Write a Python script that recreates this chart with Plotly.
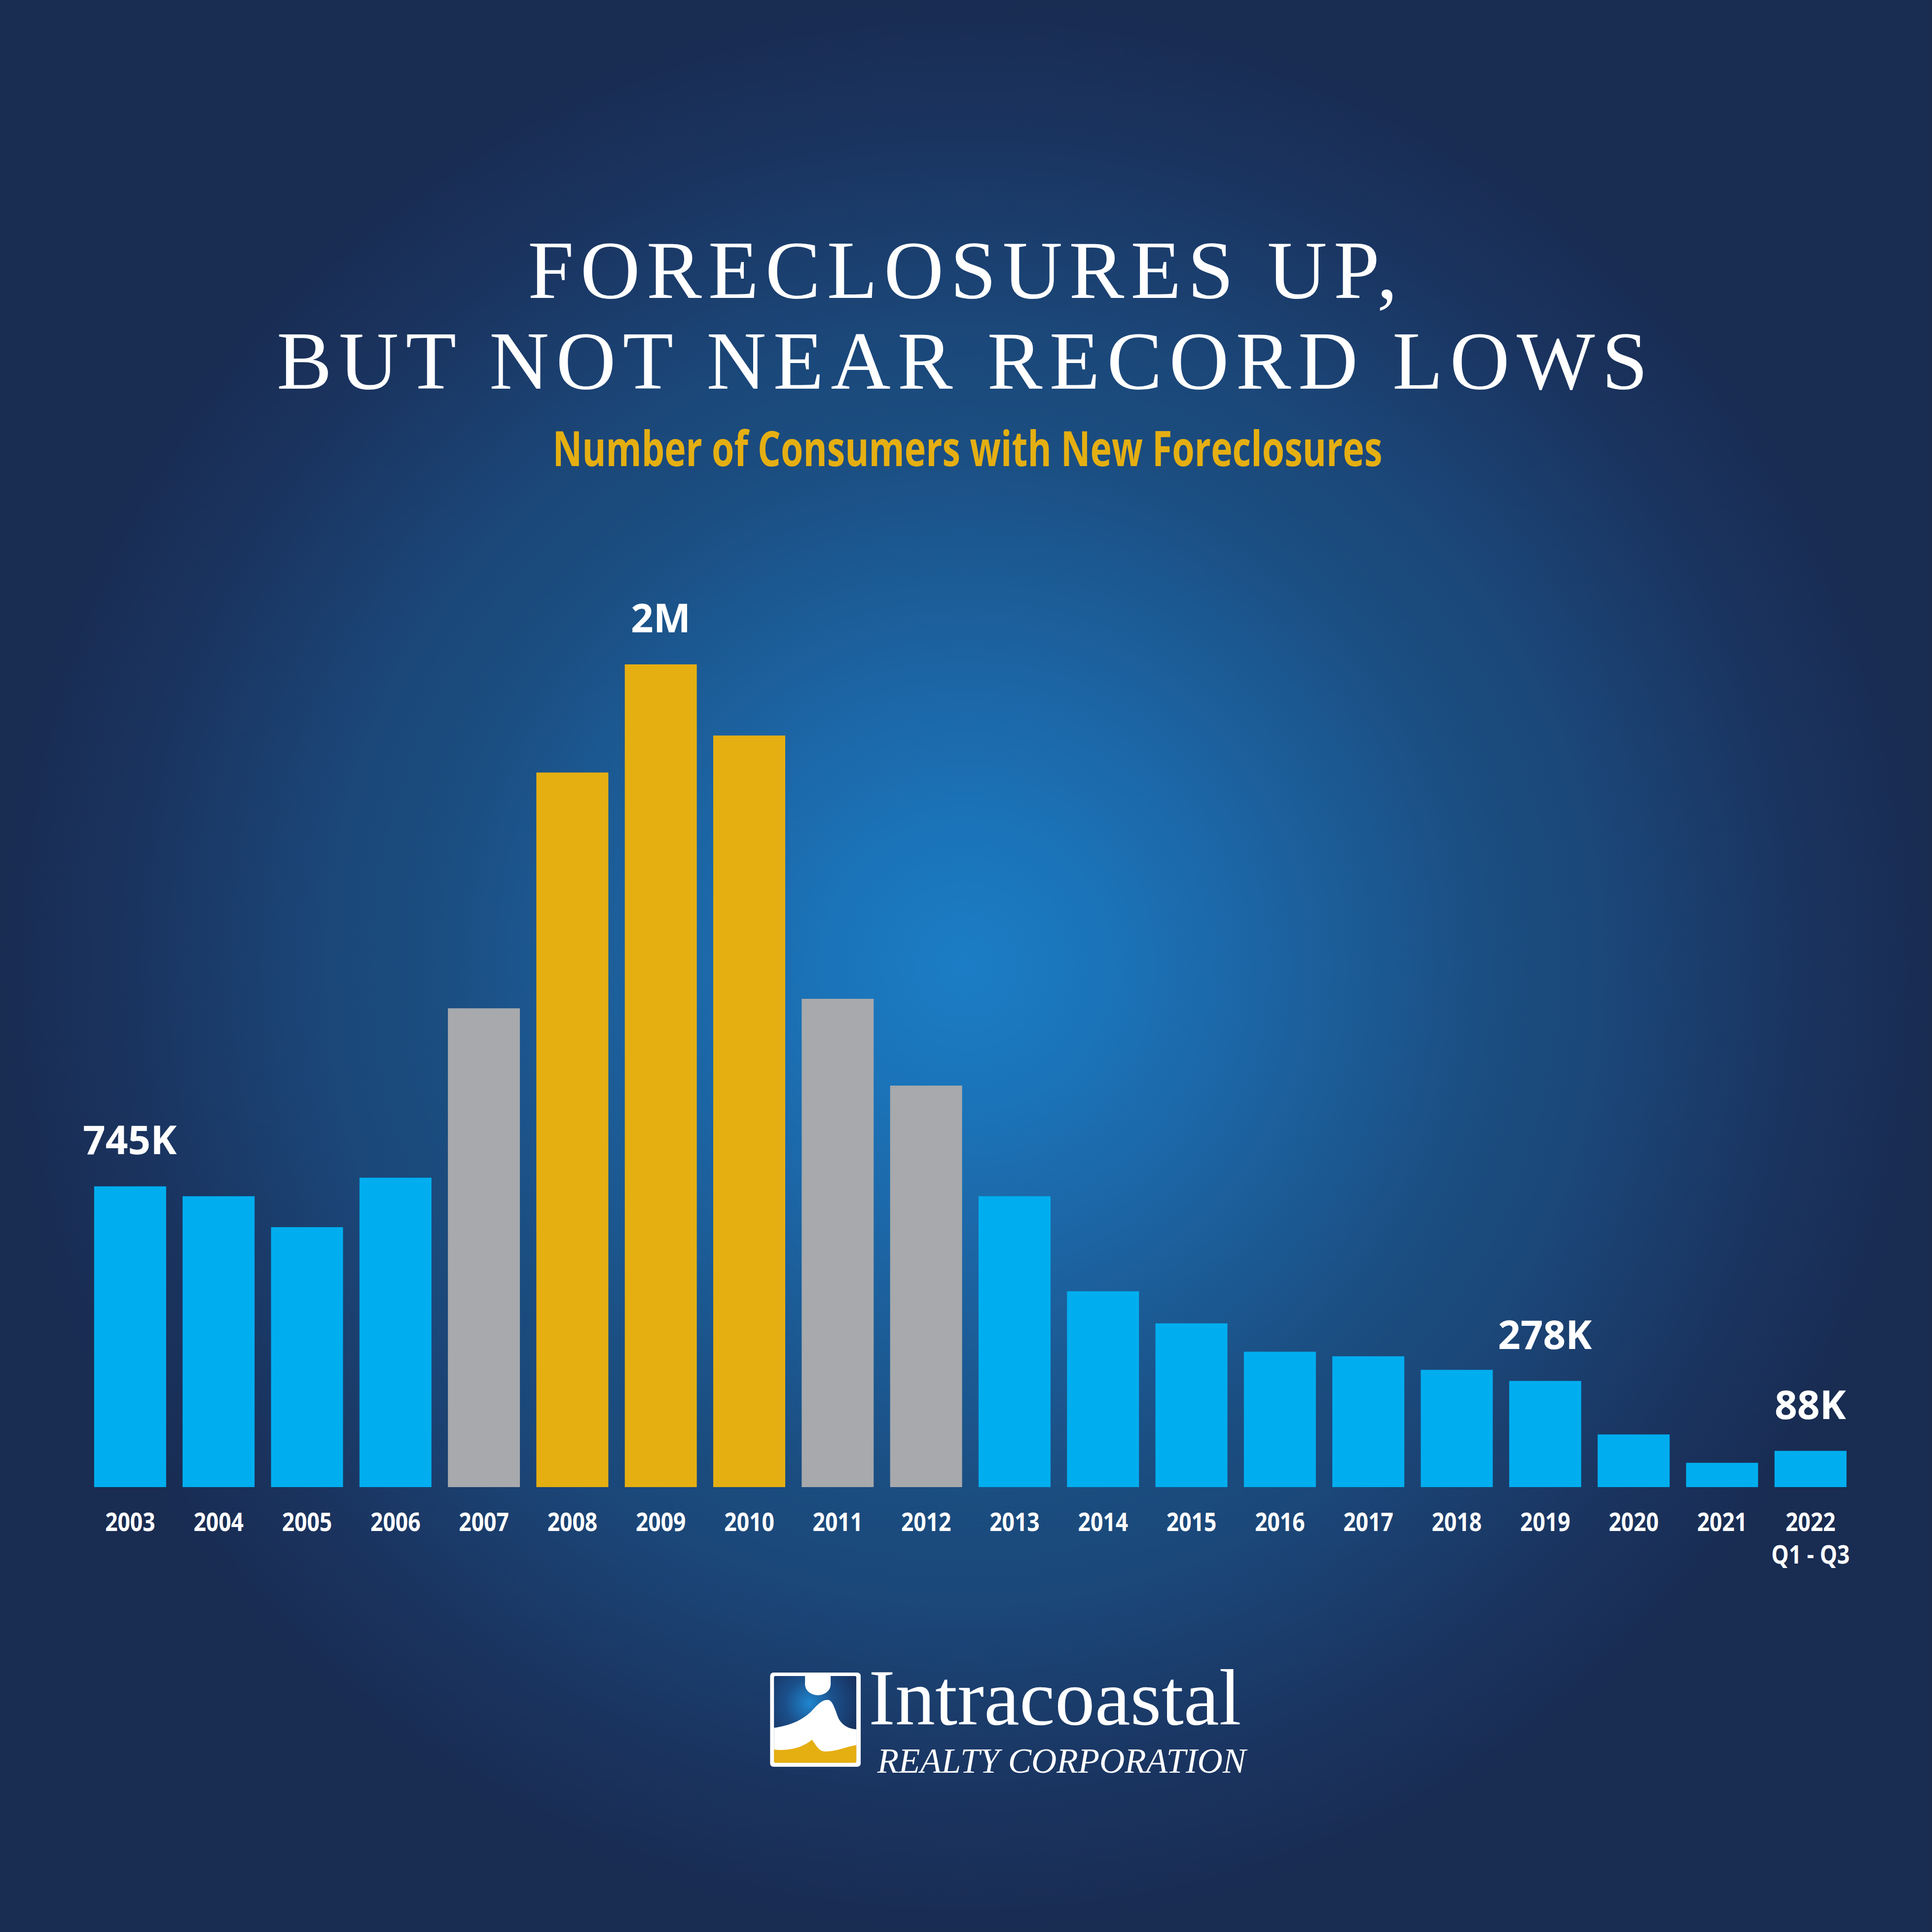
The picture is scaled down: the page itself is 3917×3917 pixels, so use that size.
import base64
import plotly.graph_objects as go

# ---------------- data ----------------
years = ["2003", "2004", "2005", "2006", "2007", "2008", "2009", "2010", "2011", "2012",
         "2013", "2014", "2015", "2016", "2017", "2018", "2019", "2020", "2021", "2022"]
tick_labels = ["2003", "2004", "2005", "2006", "2007", "2008", "2009", "2010", "2011", "2012",
               "2013", "2014", "2015", "2016", "2017", "2018", "2019", "2020", "2021", "2022<br>Q1 - Q3"]
# number of consumers with new foreclosures, thousands
foreclosures_k = [731, 707, 632, 752, 1164, 1737, 2000, 1827, 1187, 976,
                  707, 476, 398, 329, 318, 285, 258, 128, 59, 88]
groups = ["normal", "normal", "normal", "normal", "elevated", "peak", "peak", "peak", "elevated", "elevated",
          "normal", "normal", "normal", "normal", "normal", "normal", "normal", "normal", "normal", "normal"]
callout_years = ["2003", "2009", "2019", "2022"]
callout_texts = ["745K", "2M", "278K", "88K"]

title_line1 = "FORECLOSURES UP,"
title_line2 = "BUT NOT NEAR RECORD LOWS"
subtitle = "Number of Consumers with New Foreclosures"
brand_name = "Intracoastal"
brand_tagline = "REALTY CORPORATION"

# ---------------- style ----------------
W = H = 3917
group_colors = {"normal": "#00AEEF", "elevated": "#A7A9AC", "peak": "#E5AF12"}
GOLD = "#E5AF12"


def px(x):
    return x / W


def py(y):
    return 1 - y / H


bg_svg = (
    '<svg xmlns="http://www.w3.org/2000/svg" width="3917" height="3917">'
    '<defs><radialGradient id="g" cx="1958" cy="1958" r="1960" gradientUnits="userSpaceOnUse">'
    '<stop offset="0" stop-color="#1b7dc5"/>'
    '<stop offset="0.15" stop-color="#1b73b8"/>'
    '<stop offset="0.29" stop-color="#1c66a6"/>'
    '<stop offset="0.55" stop-color="#1b4d80"/>'
    '<stop offset="0.66" stop-color="#1b4779"/>'
    '<stop offset="0.86" stop-color="#1a3460"/>'
    '<stop offset="1" stop-color="#192c52"/>'
    '</radialGradient></defs>'
    '<rect width="3917" height="3917" fill="#192b4f"/>'
    '<rect width="3917" height="3917" fill="url(#g)"/></svg>'
)
bg_uri = "data:image/svg+xml;base64," + base64.b64encode(bg_svg.encode()).decode()

logo_svg = (
    '<svg xmlns="http://www.w3.org/2000/svg" width="184" height="191" viewBox="0 0 184 191">'
    '<defs><radialGradient id="lg" cx="80" cy="62" r="110" gradientUnits="userSpaceOnUse">'
    '<stop offset="0" stop-color="#1f86cf"/><stop offset="0.45" stop-color="#1b4f8a"/>'
    '<stop offset="1" stop-color="#172f5b"/></radialGradient></defs>'
    '<rect x="0" y="0" width="184" height="191" rx="7" fill="#ffffff"/>'
    '<rect x="8" y="7" width="167" height="176" rx="3" fill="url(#lg)"/>'
    '<path d="M8,112 C40,108 70,95 88,74 C103,58 110,54 120,56 C129,60 133,80 140,95 '
    'C148,108 160,114 175,115 L175,183 L8,183 Z" fill="#ffffff"/>'
    '<ellipse cx="97" cy="24" rx="26" ry="22" fill="#ffffff"/>'
    '<rect x="71" y="7" width="52" height="18" fill="#ffffff"/>'
    '<path d="M8,156 C40,160 70,150 85,136 C95,150 100,160 112,160 C135,160 155,150 175,147 '
    'L175,180 Q175,183 172,183 L11,183 Q8,183 8,180 Z" fill="#E5AF12"/>'
    '</svg>'
)
logo_uri = "data:image/svg+xml;base64," + base64.b64encode(logo_svg.encode()).decode()

fig = go.Figure()
fig.add_trace(go.Bar(
    x=years,
    y=foreclosures_k,
    marker=dict(color=[group_colors[g] for g in groups], line=dict(width=0)),
    hoverinfo="skip",
    showlegend=False,
))

annotations = []
for yr, txt in zip(callout_years, callout_texts):
    i = years.index(yr)
    annotations.append(dict(
        x=i, y=foreclosures_k[i], xref="x", yref="y",
        text=txt, showarrow=False, yanchor="bottom", xanchor="center", yshift=40,
        font=dict(family="Open Sans", size=80, color="#ffffff", weight="bold"),
    ))

brand_text = (f"<span style='font-size:162px'>{brand_name}</span><br>"
              f"<i><span style='font-size:71px'> {brand_tagline}</span></i>")

annotations += [
    dict(x=0.5, y=py(547), xref="paper", yref="paper", text=title_line1, showarrow=False,
         xanchor="center", yanchor="middle",
         font=dict(family="Liberation Serif", size=168, color="#ffffff")),
    dict(x=0.5, y=py(731), xref="paper", yref="paper", text=title_line2, showarrow=False,
         xanchor="center", yanchor="middle",
         font=dict(family="Liberation Serif", size=168, color="#ffffff")),
    dict(x=px(1963), y=py(907), xref="paper", yref="paper", text=subtitle, showarrow=False,
         xanchor="center", yanchor="middle",
         font=dict(family="Open Sans", size=98, color=GOLD, weight="bold")),
    dict(x=px(1760), y=py(3480), xref="paper", yref="paper", text=brand_text, showarrow=False,
         xanchor="left", yanchor="middle", align="left",
         font=dict(family="Liberation Serif", size=75, color="#ffffff")),
]

fig.update_layout(
    width=W, height=H,
    margin=dict(l=0, r=0, t=0, b=0),
    paper_bgcolor="#192b4f",
    plot_bgcolor="rgba(0,0,0,0)",
    bargap=0.186,
    showlegend=False,
    annotations=annotations,
    images=[
        dict(source=bg_uri, xref="paper", yref="paper", x=0, y=1, sizex=1, sizey=1,
             xanchor="left", yanchor="top", sizing="stretch", layer="below"),
        dict(source=logo_uri, xref="paper", yref="paper", x=px(1562), y=py(3391),
             sizex=px(184), sizey=191 / H, xanchor="left", yanchor="top",
             sizing="stretch", layer="above"),
    ],
    xaxis=dict(
        domain=[px(174.3), px(3762.3)],
        type="category",
        range=[-0.5, len(years) - 0.5],
        tickmode="array", tickvals=years, ticktext=tick_labels,
        showgrid=False, zeroline=False, showline=False, ticks="",
        ticklabelstandoff=37,
        tickfont=dict(family="Open Sans", size=51, color="#ffffff", weight="bold"),
        fixedrange=True,
    ),
    yaxis=dict(
        domain=[py(3015), py(1013.4)],
        range=[0, 2400],
        visible=False, showgrid=False, zeroline=False, fixedrange=True,
    ),
)

post = """
document.body.style.margin = '0';
document.documentElement.style.margin = '0';
var gd = document.getElementById('{plot_id}');
function squeeze(t, s) {
  var b = t.getBBox();
  var cx = b.x + b.width / 2;
  var tr = t.getAttribute('transform') || '';
  t.setAttribute('transform', tr + ' translate(' + cx + ',0) scale(' + s + ',1) translate(' + (-cx) + ',0)');
}
gd.querySelectorAll('.annotation-text').forEach(function(t){
  var s = t.textContent;
  if (s.indexOf('FORECLOSURES') >= 0) { t.style.letterSpacing = '13px'; }
  if (s.indexOf('RECORD LOWS') >= 0) { t.style.letterSpacing = '14px'; }
  if (s.indexOf('Number of Consumers') >= 0) { squeeze(t, 0.75); }
});
gd.querySelectorAll('.xtick text').forEach(function(t){ squeeze(t, 0.87); });
"""

fig.write_html("out.html", config={"displayModeBar": False}, post_script=post)
